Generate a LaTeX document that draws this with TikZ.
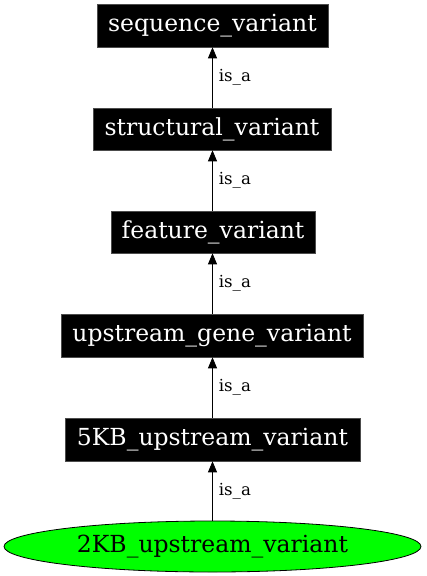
\documentclass[tikz,border=0pt]{standalone}
\usepackage{fontspec}
\setmainfont{DejaVu Serif}
\usetikzlibrary{arrows.meta,shapes.geometric}
\newcommand{\lowtxt}[1]{\raisebox{-2pt}{#1}}
\tikzset{
  blackbox/.style={rectangle, fill=black, draw=black!70, line width=0.6pt, text=white, inner sep=0pt,
    font=\fontsize{23.5}{26}\selectfont},
  greenell/.style={ellipse, fill=green, draw=black, line width=0.8pt, text=black, inner sep=0pt,
    font=\fontsize{23.5}{26}\selectfont},
  isa/.style={-{Triangle[length=11pt,width=9pt]}, line width=0.8pt, black},
  lbl/.style={font=\fontsize{16.6}{18}\selectfont, anchor=west, inner sep=0pt}
}
\begin{document}
\begin{tikzpicture}[x=1pt,y=-1pt]
\useasboundingbox (0,0) rectangle (426,576);
\node[blackbox, minimum width=231pt, minimum height=43pt] (seq) at (212.5,25.5) {\lowtxt{sequence\_variant}};
\node[blackbox, minimum width=238pt, minimum height=42pt] (str) at (212,129) {\lowtxt{structural\_variant}};
\node[blackbox, minimum width=204pt, minimum height=42pt] (fea) at (213,232) {\lowtxt{feature\_variant}};
\node[blackbox, minimum width=302pt, minimum height=43pt] (ugv) at (212,335.5) {\lowtxt{upstream\_gene\_variant}};
\node[blackbox, minimum width=295pt, minimum height=43pt] (fkb) at (212.5,439.5) {\lowtxt{5KB\_upstream\_variant}};
\node[greenell, minimum width=417pt, minimum height=51pt] (tkb) at (212.5,546.5) {\lowtxt{2KB\_upstream\_variant}};
\draw[isa] (str.north -| 212.5,0) -- (seq.south -| 212.5,0) node[pos=0.5, xshift=6pt, lbl] (l1) {is\_a};
\draw[isa] (fea.north -| 212.5,0) -- (str.south -| 212.5,0) node[pos=0.5, xshift=6pt, lbl] (l2) {is\_a};
\draw[isa] (ugv.north -| 212.5,0) -- (fea.south -| 212.5,0) node[pos=0.5, xshift=6pt, lbl] (l3) {is\_a};
\draw[isa] (fkb.north -| 212.5,0) -- (ugv.south -| 212.5,0) node[pos=0.5, xshift=6pt, lbl] (l4) {is\_a};
\draw[isa] (tkb.north -| 212.5,0) -- (fkb.south -| 212.5,0) node[pos=0.5, xshift=6pt, lbl] (l5) {is\_a};
\end{tikzpicture}
\end{document}
